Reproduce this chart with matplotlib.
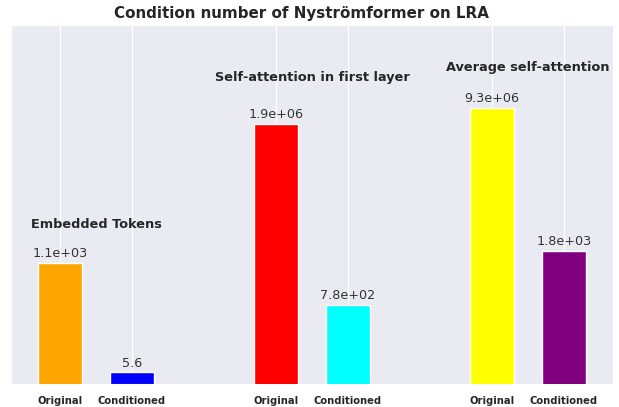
import matplotlib
matplotlib.use("Agg")
import matplotlib.pyplot as plt
import matplotlib.transforms as mtransforms
import seaborn as sns

# condition numbers
groups = ["Embedded Tokens", "Self-attention in first layer", "Average self-attention"]
original = [1.1e3, 1.9e6, 9.3e6]
conditioned = [5.6, 7.8e2, 1.8e3]
tick_labels = ["Original", "Conditioned"]
colors = [("orange", "blue"), ("red", "cyan"), ("yellow", "purple")]

# each group lives on its own log axis (shared x), limits picked to match the picture
group_ylims = [(3.2, 1.0e8), (25.5, 1.35e8), (0.63, 1.34e9)]
title_heights = [0.443, 0.855, 0.881]

sns.set_style("darkgrid")

fig = plt.figure(figsize=(6.19, 4.07), dpi=100)
ax = fig.add_subplot(111)
fig.subplots_adjust(left=11 / 619, right=613 / 619, top=1 - 25 / 407, bottom=1 - 384 / 407)

xticks = []
xlabels = []
blend = mtransforms.blended_transform_factory(ax.transData, ax.transAxes)
for i, name in enumerate(groups):
    gax = ax if i == 0 else ax.twinx()
    x0 = 3 * i
    vals = [original[i], conditioned[i]]
    bars = gax.bar([x0, x0 + 1], vals, width=0.6, color=colors[i])
    gax.set_yscale("log")
    gax.set_ylim(*group_ylims[i])
    gax.bar_label(bars, labels=[f"{v:.2g}" for v in vals], padding=2,
                  fontsize=9.2, color="#333333")
    gax.set_yticks([])
    gax.yaxis.set_minor_locator(matplotlib.ticker.NullLocator())
    if i > 0:
        gax.grid(False)
        gax.patch.set_visible(False)
        for s in gax.spines.values():
            s.set_visible(False)
    ax.text(x0 + 0.5, title_heights[i], name, transform=blend, ha="center", va="center",
            fontsize=9.3, fontweight="bold", color="#262626")
    xticks += [x0, x0 + 1]
    xlabels += tick_labels

ax.set_xticks(xticks)
ax.set_xticklabels(xlabels, fontsize=7.2, fontweight="bold", color="#262626")
ax.tick_params(axis="x", pad=9, length=0)
ax.grid(axis="y", visible=False)
ax.set_title("Condition number of Nyströmformer on LRA", fontsize=10.9,
             fontweight="bold", color="#262626", pad=5, x=0.483)

fig.savefig("out.png", dpi=100)
